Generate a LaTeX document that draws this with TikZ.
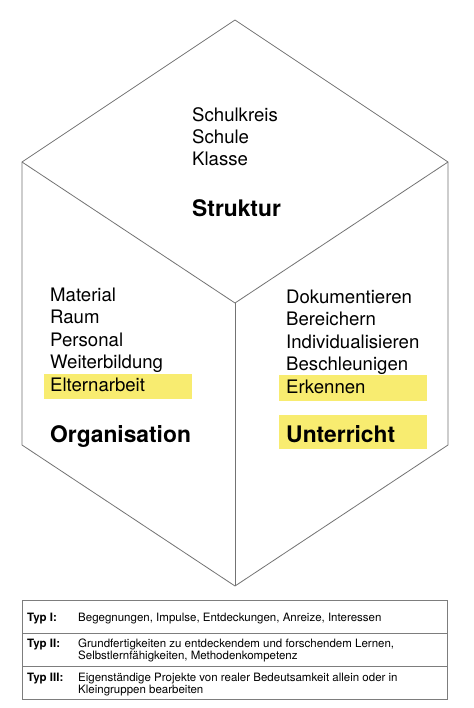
\documentclass[tikz,border=0pt]{standalone}
\usepackage{fontspec}
\setmainfont{TeX Gyre Heros}
\definecolor{hl}{RGB}{248,236,112}
\definecolor{edge}{RGB}{115,115,115}
\definecolor{tbl}{RGB}{125,125,125}
\tikzset{
  item/.style={inner sep=0pt, anchor=base west, font=\fontsize{18.6}{22}\selectfont},
  head/.style={inner sep=0pt, anchor=base west, font=\fontsize{22.8}{26}\selectfont\bfseries},
  cell/.style={inner sep=0pt, anchor=base west, font=\fontsize{11.5}{13}\selectfont},
  cellb/.style={inner sep=0pt, anchor=base west, font=\fontsize{11.5}{13}\selectfont\bfseries},
  cubeline/.style={draw=edge, line width=0.8pt},
  tblline/.style={draw=tbl, line width=0.9pt},
  hlbox/.style={fill=hl, draw=none}
}
\begin{document}
\begin{tikzpicture}[x=1pt,y=-1pt]
\useasboundingbox[fill=white] (0,0) rectangle (473,708);
% cube vertices
\coordinate (T) at (235,20);
\coordinate (UL) at (22,162);
\coordinate (LL) at (22,445);
\coordinate (B) at (235,586);
\coordinate (LR) at (448,445);
\coordinate (UR) at (448,162);
\coordinate (C) at (235,303);
% highlights
\fill[hlbox] (44,374) rectangle (192,399);
\fill[hlbox] (279,375) rectangle (427,401);
\fill[hlbox] (279,415) rectangle (427,449);
% cube edges
\draw[cubeline] (T) -- (UL) -- (LL) -- (B) -- (LR) -- (UR) -- cycle;
\draw[cubeline] (UL) -- (C) -- (UR);
\draw[cubeline] (C) -- (B);
% top face
\node[item] (s1) at (192,122) {Schulkreis};
\node[item] (s2) at (192,144) {Schule};
\node[item] (s3) at (192,166) {Klasse};
\node[head] (sh) at (192,217) {Struktur};
% left face
\node[item] (o1) at (50,301) {Material};
\node[item] (o2) at (50,323.5) {Raum};
\node[item] (o3) at (50,346) {Personal};
\node[item] (o4) at (50,368.5) {Weiterbildung};
\node[item] (o5) at (50,391) {Elternarbeit};
\node[head] (oh) at (50,442) {Organisation};
% right face
\node[item] (u1) at (286,303) {Dokumentieren};
\node[item] (u2) at (286,325.5) {Bereichern};
\node[item] (u3) at (286,348) {Individualisieren};
\node[item] (u4) at (286,370.5) {Beschleunigen};
\node[item] (u5) at (286,393) {Erkennen};
\node[head] (uh) at (286,442) {Unterricht};
% table
\draw[tblline] (22,600) rectangle (447,699);
\draw[tblline] (22,633) -- (447,633);
\draw[tblline] (22,666) -- (447,666);
\node[cellb] (t1) at (27,621) {Typ I:};
\node[cell] (d1) at (78,621) {Begegnungen, Impulse, Entdeckungen, Anreize, Interessen};
\node[cellb] (t2) at (27,647) {Typ II:};
\node[cell] (d2a) at (78,647) {Grundfertigkeiten zu entdeckendem und forschendem Lernen,};
\node[cell] (d2b) at (78,659.5) {Selbstlernfähigkeiten, Methodenkompetenz};
\node[cellb] (t3) at (27,681) {Typ III:};
\node[cell] (d3a) at (78,681) {Eigenständige Projekte von realer Bedeutsamkeit allein oder in};
\node[cell] (d3b) at (78,693.5) {Kleingruppen bearbeiten};
\end{tikzpicture}
\end{document}
